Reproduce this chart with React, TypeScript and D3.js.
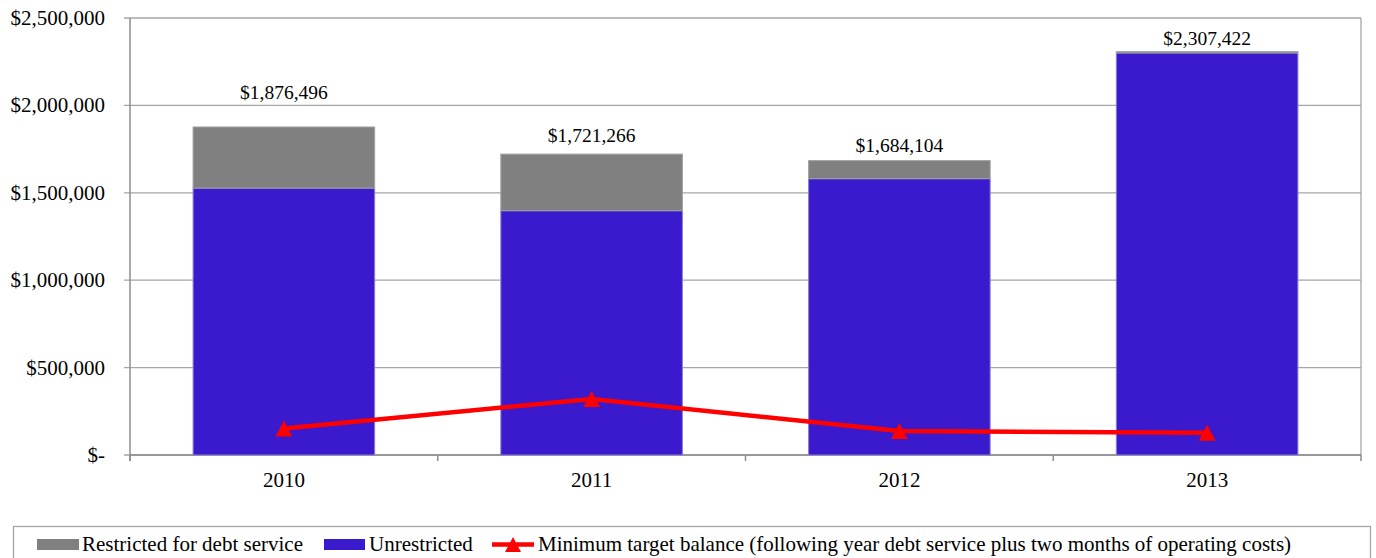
import React from "react";
import * as d3 from "d3";

const years = ["2010", "2011", "2012", "2013"];
const unrestricted = [1527000, 1397600, 1580700, 2300000];
const restricted = [349496, 323666, 103404, 7422];
const totals = [1876496, 1721266, 1684104, 2307422];
const minimumTarget = [152000, 320000, 137000, 128000];
const yTicks = [0, 500000, 1000000, 1500000, 2000000, 2500000];
const legendLabels = [
  "Restricted for debt service",
  "Unrestricted",
  "Minimum target balance (following year debt service plus two months of operating costs)",
];

// layout (pixels) for the total labels above each bar
const labelGap = [28, 12, 9, 7];

const W = 1376;
const H = 558;
const left = 130;
const right = 1361;
const top = 18;
const bottom = 455;
const blue = "#3B19CC";
const grey = "#808080";
const red = "#FF0000";
const serif = "Liberation Serif, serif";
const tickStyle: React.CSSProperties = { fontFamily: serif, fontSize: "21px" };
const labelStyle: React.CSSProperties = { fontFamily: serif, fontSize: "19.5px" };

const fmt = (v: number) => (v === 0 ? "$-" : "$" + d3.format(",")(v));

const triPath = (cx: number, cy: number, hw: number, hh: number) =>
  d3.line()([
    [cx, cy - hh],
    [cx + hw, cy + hh],
    [cx - hw, cy + hh],
  ])! + "Z";

export default function App() {
  const x = d3.scaleBand<string>().domain(years).range([left, right]).paddingInner(0.41).paddingOuter(0.205);
  const xc = d3.scalePoint<string>().domain(years).range([left, right]).padding(0.5);
  const y = d3.scaleLinear().domain([0, 2500000]).range([bottom, top]);
  const bw = x.bandwidth();
  const step = (right - left) / years.length;
  const line = d3
    .line<number>()
    .x((_, i) => xc(years[i])!)
    .y((d) => y(d));

  return (
    <svg width={W} height={H} style={{ position: "absolute", left: 0, top: 0, background: "#fff" }}>
      {yTicks.map((t) => (
        <line key={t} x1={left - 6} x2={right} y1={y(t)} y2={y(t)} stroke="#A6A6A6" strokeWidth={1.3} />
      ))}
      <line x1={right} x2={right} y1={top} y2={bottom} stroke="#A6A6A6" strokeWidth={1.3} />
      <line x1={left} x2={left} y1={top} y2={bottom + 6} stroke="#8C8C8C" strokeWidth={1.5} />
      <line x1={left} x2={right} y1={bottom} y2={bottom} stroke="#8C8C8C" strokeWidth={1.5} />
      {d3.range(years.length + 1).map((i) => (
        <line key={i} x1={left + i * step} x2={left + i * step} y1={bottom} y2={bottom + 6} stroke="#8C8C8C" strokeWidth={1.5} />
      ))}
      {yTicks.map((t) => (
        <text key={t} x={105} y={y(t) + 7} textAnchor="end" style={tickStyle} fill="#000">
          {fmt(t)}
        </text>
      ))}
      {years.map((yr, i) => (
        <g key={yr}>
          <rect x={x(yr)} y={y(unrestricted[i])} width={bw} height={y(0) - y(unrestricted[i])} fill={blue} stroke="#8A7FD6" strokeWidth={1} />
          <rect
            x={x(yr)}
            y={y(unrestricted[i] + restricted[i])}
            width={bw}
            height={y(unrestricted[i]) - y(unrestricted[i] + restricted[i])}
            fill={grey}
            stroke="#A0A0A0"
            strokeWidth={1}
          />
          <text x={xc(yr)} y={y(totals[i]) - labelGap[i]} textAnchor="middle" style={labelStyle} fill="#000">
            {fmt(totals[i])}
          </text>
          <text x={xc(yr)} y={487} textAnchor="middle" style={tickStyle} fill="#000">
            {yr}
          </text>
        </g>
      ))}
      <path d={line(minimumTarget)!} fill="none" stroke={red} strokeWidth={4.5} strokeLinejoin="round" />
      {minimumTarget.map((v, i) => (
        <path key={i} d={triPath(xc(years[i])!, y(v), 8.5, 8)} fill={red} />
      ))}
      <rect x={13.5} y={526.5} width={1357} height={40} fill="#fff" stroke="#A6A6A6" strokeWidth={1.3} />
      <rect x={37} y={539} width={42} height={11} fill={grey} />
      <text x={82} y={551} style={tickStyle} fill="#000">{legendLabels[0]}</text>
      <rect x={324} y={539} width={41} height={11} fill={blue} />
      <text x={369} y={551} style={tickStyle} fill="#000">{legendLabels[1]}</text>
      <line x1={492} x2={534} y1={544.5} y2={544.5} stroke={red} strokeWidth={4.5} />
      <path d={triPath(513, 544.5, 8, 7.5)} fill={red} />
      <text x={538} y={551} style={tickStyle} fill="#000">{legendLabels[2]}</text>
    </svg>
  );
}
